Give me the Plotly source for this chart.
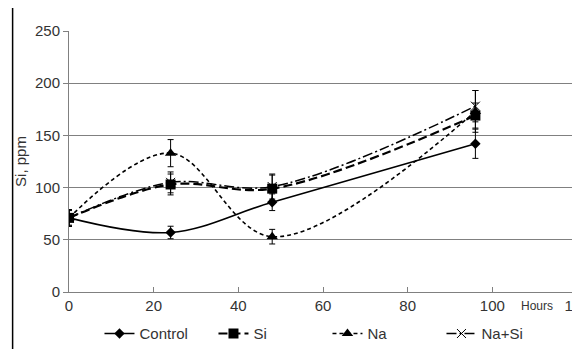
import plotly.graph_objects as go

hours = [0, 24, 48, 96]
control = [71, 57, 86, 142]
control_err = [8, 6, 8, 14]
si = [71, 103, 99, 169]
si_err = [7, 10, 13, 12]
na = [71, 133, 53, 173]
na_err = [8, 13, 7, 20]
nasi = [71, 105, 101, 178]
nasi_err = [8, 10, 12, 15]

series = [
    ("Control", control, control_err, "solid", 1.6, "diamond", 8),
    ("Si", si, si_err, "9px,4px", 2.2, "square", 10),
    ("Na", na, na_err, "4px,3px", 1.6, "triangle-up", 10),
    ("Na+Si", nasi, nasi_err, "10px,3px,2px,3px", 1.5, "x-thin", 9),
]

fig = go.Figure()
for name, vals, errs, dash, lw, sym, ms in series:
    marker = dict(symbol=sym, size=ms, color="black")
    if sym == "x-thin":
        marker["line"] = dict(color="black", width=1)
    fig.add_trace(go.Scatter(
        x=hours, y=vals, name=name, mode="lines+markers",
        line=dict(color="black", width=lw, dash=dash, shape="spline", smoothing=1),
        marker=marker,
        error_y=dict(type="data", array=errs, visible=True, color="black",
                     thickness=1, width=3),
    ))

fig.update_layout(
    width=580, height=350,
    margin=dict(l=60.5, r=11, t=23, b=66, autoexpand=False),
    paper_bgcolor="white", plot_bgcolor="white",
    font=dict(family="Liberation Sans, Arial, sans-serif", size=15, color="#333333"),
    showlegend=True,
    legend=dict(orientation="h", x=0.06, xanchor="left", y=-0.16, yanchor="middle",
                itemwidth=30, entrywidth=69, font=dict(size=15, color="#333333"),
                bgcolor="rgba(0,0,0,0)"),
    xaxis=dict(range=[0, 120], tickvals=[0, 20, 40, 60, 80, 100, 120],
               showgrid=False, zeroline=False, showline=True, linecolor="#808080",
               linewidth=1, ticks="inside", ticklen=5, tickcolor="#808080",
               ticklabeloverflow="allow", automargin=False),
    yaxis=dict(range=[0, 250], tickvals=[0, 50, 100, 150, 200, 250],
               showgrid=True, gridcolor="#808080", gridwidth=1, zeroline=False,
               showline=True, linecolor="#808080", linewidth=1,
               ticks="outside", ticklen=5, tickcolor="#808080", automargin=False,
               title=dict(text="Si, ppm", standoff=4, font=dict(size=15))),
    annotations=[dict(text="Hours", x=110.5, xref="x", y=-0.055, yref="paper",
                      showarrow=False, font=dict(size=12, color="#333333"),
                      xanchor="center", yanchor="middle")],
    shapes=[
        dict(type="line", xref="paper", yref="paper", x0=-0.111, x1=0.9975,
             y0=1.092, y1=1.092, line=dict(color="black", width=1.5)),
        dict(type="line", xref="paper", yref="paper", x0=-0.111, x1=-0.111,
             y0=1.092, y1=-0.218, line=dict(color="black", width=1.5)),
    ],
)

fig.write_html("out.html")
